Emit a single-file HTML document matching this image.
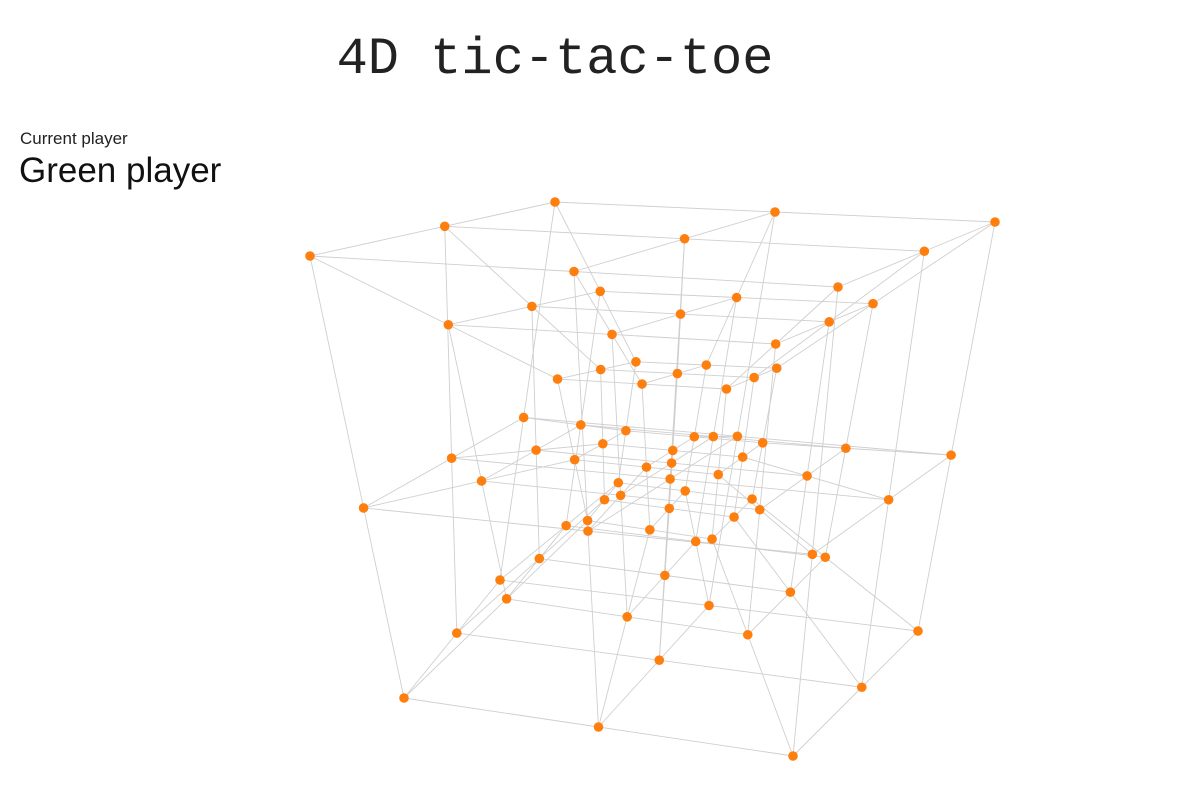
<!DOCTYPE html>
<html>
<head>
<meta charset="utf-8">
<style>
  html,body{margin:0;padding:0;background:#fff;}
  body{width:1179px;height:790px;position:relative;overflow:hidden;font-family:"Liberation Sans",sans-serif;}
  #title{position:absolute;left:0;width:1110px;top:30px;text-align:center;font-family:"Liberation Mono",monospace;font-size:52px;color:#222;}
  #cp-label{position:absolute;left:20px;top:129px;font-size:17px;color:#222;}
  #cp-value{position:absolute;left:19px;top:151px;font-size:35px;color:#111;}
  svg{position:absolute;left:0;top:0;}
</style>
</head>
<body>
<div id="title">4D tic-tac-toe</div>
<div id="cp-label">Current player</div>
<div id="cp-value">Green player</div>
<svg id="board" width="1179" height="790">
  <g id="edges"></g>
  <g id="cells"></g>
</svg>
<script>
// board data: 3x3x3x3 cells, coordinate levels and cell states
const levels = [-1, 0, 1];
const cellStates = new Array(81).fill('empty');
const stateColors = {empty: '#ff7f0e', green: '#2ca02c', red: '#d62728'};

// camera / view (not data): outer cube corners, perspective mid-fractions, w-scaling
const view = {
  c: {
    '-1,1,1': [310,256], '-1,1,-1': [555,202], '1,1,-1': [995,222], '1,1,1': [838,287],
    '-1,-1,1': [404,698], '1,-1,1': [793,756], '1,-1,-1': [918,631], '-1,-1,-1': [500,580]
  },
  mid: {x: 0.5, y: 0.43, z: 0.45},
  center: [674,437],
  wScale: {'-1': 0.32, '0': 0.62, '1': 1.0}
};

function frac(v, m) { return v < 0 ? 0 : (v > 0 ? 1 : m); }

function project(x, y, z, w) {
  const tx = frac(x, view.mid.x), ty = frac(y, view.mid.y), tz = frac(z, view.mid.z);
  let px = 0, py = 0;
  for (const cx of [-1, 1]) for (const cy of [-1, 1]) for (const cz of [-1, 1]) {
    const wt = (cx > 0 ? tx : 1 - tx) * (cy > 0 ? ty : 1 - ty) * (cz > 0 ? tz : 1 - tz);
    const p = view.c[cx + ',' + cy + ',' + cz];
    px += wt * p[0]; py += wt * p[1];
  }
  const k = view.wScale[String(w)];
  return [view.center[0] + (px - view.center[0]) * k, view.center[1] + (py - view.center[1]) * k];
}

const NS = 'http://www.w3.org/2000/svg';
const edgesG = document.getElementById('edges');
const cellsG = document.getElementById('cells');
const pts = [];
let idx = 0;
for (const x of levels) for (const y of levels) for (const z of levels) for (const w of levels) {
  pts.push({x, y, z, w, p: project(x, y, z, w), s: cellStates[idx++]});
}
for (const a of pts) {
  for (const b of pts) {
    const d = Math.abs(a.x-b.x) + Math.abs(a.y-b.y) + Math.abs(a.z-b.z) + Math.abs(a.w-b.w);
    const forward = (b.x-a.x) + (b.y-a.y) + (b.z-a.z) + (b.w-a.w);
    if (d === 1 && forward === 1) {
      const l = document.createElementNS(NS, 'line');
      l.setAttribute('x1', a.p[0]); l.setAttribute('y1', a.p[1]);
      l.setAttribute('x2', b.p[0]); l.setAttribute('y2', b.p[1]);
      l.setAttribute('stroke', '#cfcfcf'); l.setAttribute('stroke-width', '0.9');
      
      
      edgesG.appendChild(l);
    }
  }
}
for (const a of pts) {
  const c = document.createElementNS(NS, 'circle');
  c.setAttribute('cx', a.p[0]); c.setAttribute('cy', a.p[1]);
  c.setAttribute('r', 4.8);
  c.setAttribute('fill', stateColors[a.s]);
  
  
  cellsG.appendChild(c);
}
</script>
</body>
</html>
